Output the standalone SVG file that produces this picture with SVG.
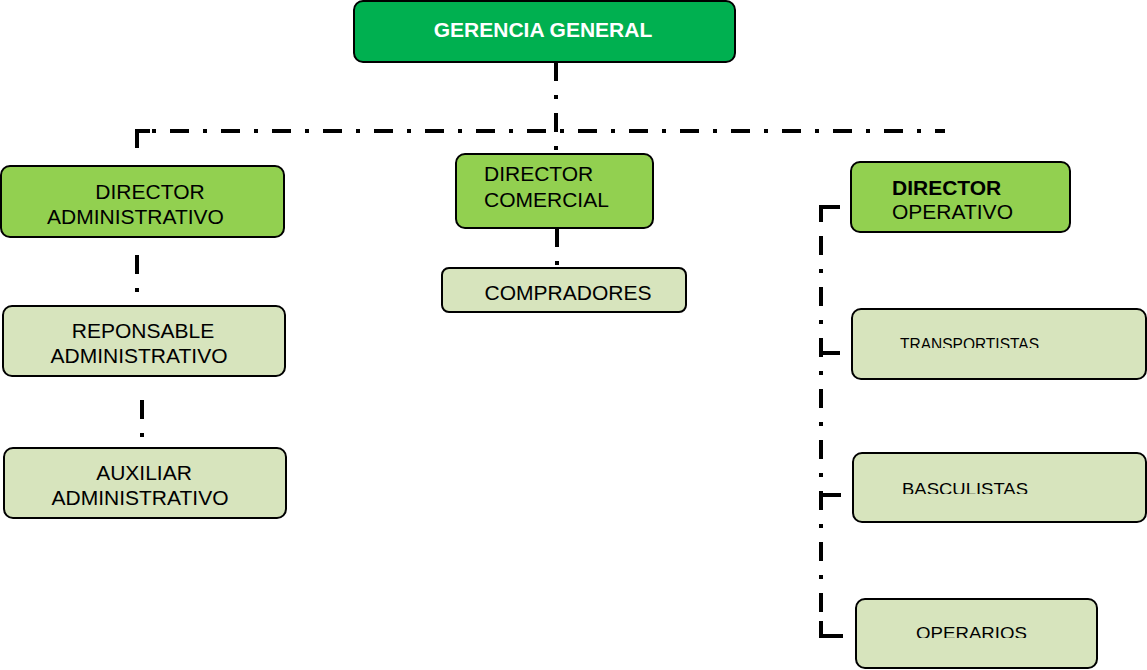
<svg xmlns="http://www.w3.org/2000/svg" width="1147" height="670" viewBox="0 0 1147 670">
<style>
.box{stroke:#000;stroke-width:2}
.top{fill:#00B050}
.mid{fill:#92D050}
.low{fill:#D7E4BD}
.t{font-family:"Liberation Sans",Arial,sans-serif;font-size:21px;fill:#000}
.s{font-family:"Liberation Sans",Arial,sans-serif;font-size:17px;fill:#000}
.conn{fill:none;stroke:#000;stroke-width:4;stroke-dasharray:19 14 4 14}
.solid{fill:none;stroke:#000;stroke-width:4}
</style>
<defs>
<clipPath id="c1"><rect x="852" y="309" width="295" height="39"/></clipPath>
<clipPath id="c2"><rect x="853" y="453" width="294" height="41"/></clipPath>
<clipPath id="c3"><rect x="856" y="599" width="241" height="39"/></clipPath>
</defs>
<rect width="1147" height="670" fill="#fff"/>
<g id="connectors">
<path class="conn" d="M556 62 V154"/>
<path class="solid" d="M137 148 V131 H150"/>
<path class="conn" d="M150 131 H945" style="stroke-dashoffset:-20"/>
<path class="conn" d="M137 255 V292"/>
<path class="conn" d="M142 400 V437"/>
<path class="conn" d="M557 228 V266"/>
<path class="solid" d="M840 207 H821 V222"/>
<path class="conn" d="M821 222 V636" style="stroke-dashoffset:-14"/>
<path class="solid" d="M821 621 V636 H843"/>
<path class="solid" d="M822 353 H840"/>
<path class="solid" d="M821 495 H841"/>
</g>
<g id="gerencia-general">
<rect class="box top" x="354" y="1" width="381" height="61" rx="9"/>
<text x="543" y="37" text-anchor="middle" font-family="Liberation Sans, Arial, sans-serif" font-size="21" font-weight="bold" fill="#fff">GERENCIA GENERAL</text>
</g>
<g id="director-administrativo">
<rect class="box mid" x="1" y="166" width="283" height="71" rx="9"/>
<text class="t" x="150" y="199" text-anchor="middle">DIRECTOR</text>
<text class="t" x="47" y="224">ADMINISTRATIVO</text>
</g>
<g id="reponsable-administrativo">
<rect class="box low" x="3" y="306" width="282" height="70" rx="9"/>
<text class="t" x="143" y="338" text-anchor="middle">REPONSABLE</text>
<text class="t" x="139" y="363" text-anchor="middle">ADMINISTRATIVO</text>
</g>
<g id="auxiliar-administrativo">
<rect class="box low" x="4" y="448" width="282" height="70" rx="9"/>
<text class="t" x="144" y="480" text-anchor="middle">AUXILIAR</text>
<text class="t" x="140" y="505" text-anchor="middle">ADMINISTRATIVO</text>
</g>
<g id="director-comercial">
<rect class="box mid" x="456" y="154" width="197" height="74" rx="9"/>
<text class="t" x="484" y="181">DIRECTOR</text>
<text class="t" x="484" y="207">COMERCIAL</text>
</g>
<g id="compradores">
<rect class="box low" x="442" y="268" width="244" height="44" rx="7"/>
<text class="t" x="568" y="300" text-anchor="middle">COMPRADORES</text>
</g>
<g id="director-operativo">
<rect class="box mid" x="851" y="162" width="219" height="70" rx="9"/>
<text class="t" x="892" y="195" font-weight="bold">DIRECTOR</text>
<text class="t" x="892" y="219">OPERATIVO</text>
</g>
<g id="transportistas">
<rect class="box low" x="852" y="309" width="294" height="70" rx="9"/>
<text class="s" x="900" y="350" font-size="16" textLength="139" lengthAdjust="spacingAndGlyphs" clip-path="url(#c1)">TRANSPORTISTAS</text>
</g>
<g id="basculistas">
<rect class="box low" x="853" y="453" width="293" height="69" rx="9"/>
<text class="s" x="902" y="495" textLength="126" lengthAdjust="spacingAndGlyphs" clip-path="url(#c2)">BASCULISTAS</text>
</g>
<g id="operarios">
<rect class="box low" x="856" y="599" width="241" height="69" rx="9"/>
<text class="s" x="916" y="639" textLength="111" lengthAdjust="spacingAndGlyphs" clip-path="url(#c3)">OPERARIOS</text>
</g>
</svg>
